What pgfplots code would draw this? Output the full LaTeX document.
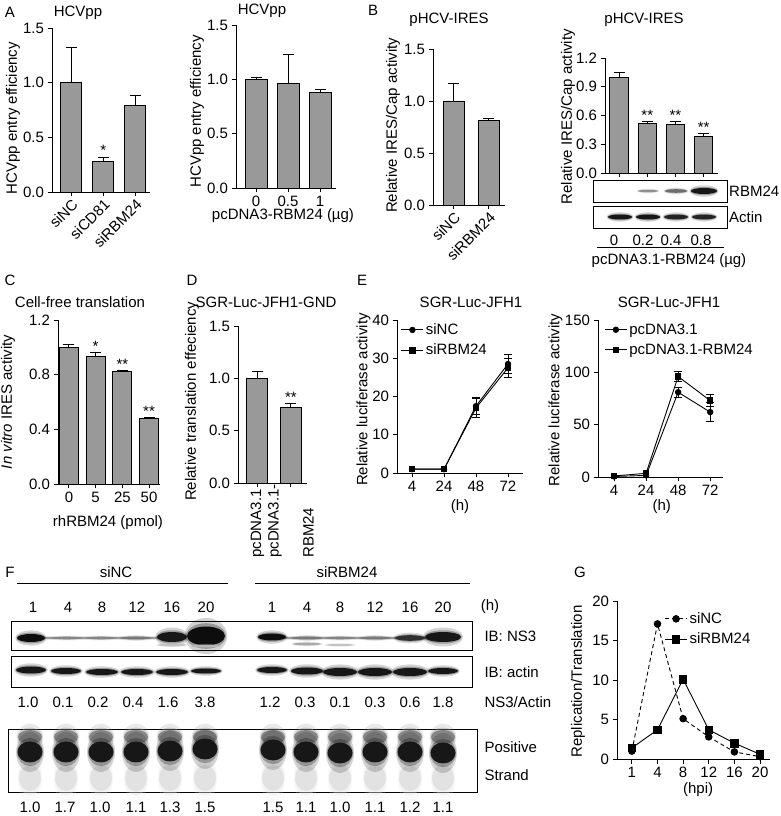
\documentclass[border=0pt]{standalone}
\usepackage{fontspec}
\setmainfont{Liberation Sans}
\usepackage{pgfplots}
\usepackage{pgfplotstable}
\pgfplotsset{compat=1.18}
\newcommand{\fs}{\fontsize{15}{17.5}\selectfont}
\definecolor{barg}{gray}{0.6}

\pgfdeclareplotmark{band}{%
  \pgfsetfillopacity{0.18}%
  \pgfpathellipse{\pgfpointorigin}{\pgfpoint{1.12pt*\bandw}{0pt}}{\pgfpoint{0pt}{1.9pt*\bandh}}\pgfusepathqfill
  \pgfsetfillopacity{0.3}%
  \pgfpathellipse{\pgfpointorigin}{\pgfpoint{1.05pt*\bandw}{0pt}}{\pgfpoint{0pt}{1.35pt*\bandh}}\pgfusepathqfill
  \pgfsetfillopacity{1}%
  \pgfpathellipse{\pgfpointorigin}{\pgfpoint{1pt*\bandw}{0pt}}{\pgfpoint{0pt}{1pt*\bandh}}\pgfusepathqfill
}

\pgfplotsset{
  panel/.style={scale only axis, anchor=south west, clip=false,
    axis x line*=bottom, axis y line*=left,
    axis line style={line width=0.9pt, black},
    tick style={line width=0.9pt, black},
    tick align=outside, major tick length=4.5pt,
    tick label style={font=\fs}, label style={font=\fs},
    /pgf/number format/assume math mode=true,
    legend style={draw=none, fill=none, font=\fs, cells={anchor=west}, row sep=4pt, inner sep=0pt},
    legend image code/.code={\draw[mark repeat=2,mark phase=2,##1] plot coordinates {(0pt,0pt) (11pt,0pt) (22pt,0pt)};},
  },
  onedec/.style={yticklabel style={/pgf/number format/.cd, fixed, fixed zerofill, precision=1}},
  rotlab/.style={xticklabel style={rotate=45, anchor=north east, inner sep=1pt}},
  ylabpos/.style 2 args={ylabel style={at={(axis description cs:#1,#2)}, anchor=center}},
  xlabpos/.style 2 args={xlabel style={at={(axis description cs:#1,#2)}, anchor=center}},
  mybar/.style={ybar, bar width=#1, fill=barg, draw=black, line width=0.9pt,
    error bars/y dir=plus, error bars/y explicit,
    error bars/error bar style={line width=0.9pt, black},
    error bars/error mark options={rotate=90, mark size=5.5pt, line width=0.9pt, black}},
  stars/.style={draw=none, mark=none, nodes near coords, point meta=explicit symbolic,
    nodes near coords style={font=\fs, anchor=south, inner sep=1pt}},
  lineplot/.style={black, line width=0.9pt, mark size=2.7pt,
    error bars/y dir=both, error bars/y explicit,
    error bars/error bar style={line width=0.9pt, black},
    error bars/error mark options={rotate=90, mark size=4pt, line width=0.9pt, black}},
  blot/.style={scale only axis, anchor=south west, xtick=\empty, ytick=\empty,
    axis line style={line width=0.9pt, black}, clip=true,
    colormap={blotmap}{gray(0cm)=(1); gray(1cm)=(0.05)},
    point meta min=0, point meta max=1},
  bands/.style={scatter, only marks, mark=band,
    point meta=\thisrow{g},
    visualization depends on={value \thisrow{w}\as\bandw},
    visualization depends on={value \thisrow{h}\as\bandh},
    scatter/use mapped color={draw=none, fill=mapped color}},
}

\begin{document}
\begin{tikzpicture}[font=\fs]
\path[use as bounding box] (0,0) rectangle (780pt,816pt);

% ---------- A left
\begin{axis}[panel, at={(52pt,624pt)}, width=97.6pt, height=164pt,
  xmin=-0.6, xmax=2.45, ymin=0, ymax=1.5, ytick={0,0.5,1,1.5}, onedec,
  xtick={0,1,2}, xticklabels={siNC,siCD81,siRBM24}, rotlab,
  ylabel={HCVpp entry efficiency}, ylabpos={-0.40}{0.45}]
\addplot[mybar=21pt] coordinates {(0,1.0) +- (0,0.32) (1,0.28) +- (0,0.04) (2,0.79) +- (0,0.09)};
\addplot[stars] coordinates {(1,0.32) [*]};
\end{axis}

% ---------- A right
\begin{axis}[panel, at={(236pt,628pt)}, width=100pt, height=163pt,
  xmin=-0.625, xmax=2.5, ymin=0, ymax=1.5, ytick={0,0.5,1,1.5}, onedec,
  xtick={0,1,2}, xticklabels={0,0.5,1},
  ylabel={HCVpp entry efficiency}, ylabpos={-0.39}{0.47},
  xlabel={pcDNA3-RBM24 (µg)}, xlabpos={0.47}{-0.168}]
\addplot[mybar=22pt] coordinates {(0,1.0) +- (0,0.02) (1,0.96) +- (0,0.27) (2,0.88) +- (0,0.03)};
\end{axis}

% ---------- B left
\begin{axis}[panel, at={(433pt,611pt)}, width=72pt, height=156pt,
  xmin=-0.586, xmax=1.47, ymin=0, ymax=1.5, ytick={0,0.5,1,1.5}, onedec,
  xtick={0,1}, xticklabels={siNC,siRBM24}, rotlab,
  ylabel={Relative IRES/Cap activity}, ylabpos={-0.556}{0.51}]
\addplot[mybar=21pt] coordinates {(0,1.0) +- (0,0.17) (1,0.81) +- (0,0.02)};
\end{axis}

% ---------- B right
\begin{axis}[panel, at={(605pt,643pt)}, width=113pt, height=115pt,
  xmin=-0.5, xmax=3.51, ymin=0, ymax=1.2, ytick={0,0.3,0.6,0.9,1.2}, onedec,
  xtick={0,1,2,3}, xticklabels={},
  ylabel={Relative IRES/Cap activity}, ylabpos={-0.327}{0.49}]
\addplot[mybar=18.5pt] coordinates {(0,1.0) +- (0,0.05) (1,0.52) +- (0,0.02) (2,0.51) +- (0,0.03) (3,0.38) +- (0,0.03)};
\addplot[stars] coordinates {(1,0.54) [**] (2,0.54) [**] (3,0.41) [**]};
\end{axis}
\begin{axis}[blot, at={(593pt,614pt)}, width=134pt, height=22pt, xmin=593, xmax=727, ymin=0, ymax=22]
\addplot[bands] table {
x y w h g
648 11 10 1.2 0.45
676 11 11 1.8 0.6
704 11 13 3 0.95
};
\end{axis}
\begin{axis}[blot, at={(593pt,588pt)}, width=134pt, height=22pt, xmin=593, xmax=727, ymin=0, ymax=22]
\addplot[bands] table {
x y w h g
620 11 12 2.5 0.95
648 11 12 2.5 0.95
676 11 12 2.4 0.9
704 11 12 2.4 0.9
};
\end{axis}
\node[anchor=west, inner sep=1pt] at (728pt,625pt) {RBM24};
\node[anchor=west, inner sep=1pt] at (728pt,599pt) {Actin};
\node at (614pt,576pt) {0};
\node at (643pt,576pt) {0.2};
\node at (671pt,576pt) {0.4};
\node at (701pt,576pt) {0.8};
\draw[line width=0.9pt] (597pt,569pt) -- (724pt,569pt);
\node at (669pt,555pt) {pcDNA3.1-RBM24 (µg)};

% ---------- C
\begin{axis}[panel, at={(58pt,332pt)}, width=102pt, height=164pt,
  xmin=-0.41, xmax=3.41, ymin=0, ymax=1.2, ytick={0,0.4,0.8,1.2}, onedec,
  xtick={0,1,2,3}, xticklabels={0,5,25,50},
  ylabel={\textit{In vitro} IRES activity}, ylabpos={-0.49}{0.5},
  xlabel={rhRBM24 (pmol)}, xlabpos={0.49}{-0.238}]
\addplot[mybar=19pt] coordinates {(0,1.0) +- (0,0.02) (1,0.93) +- (0,0.03) (2,0.82) +- (0,0.01) (3,0.48) +- (0,0.005)};
\addplot[stars] coordinates {(1,0.96) [*] (2,0.83) [**] (3,0.485) [**]};
\end{axis}

% ---------- D
\begin{axis}[panel, at={(238pt,333pt)}, width=69pt, height=157pt,
  xmin=-0.58, xmax=1.48, ymin=0, ymax=1.5, ytick={0,0.5,1,1.5}, onedec,
  xtick={0,1}, xticklabels={pcDNA3.1,{pcDNA3.1-\\RBM24}},
  xticklabel style={rotate=90, anchor=east, text width=68pt, align=left, inner sep=2pt},
  ylabel={Relative translation effeciency}, ylabpos={-0.667}{0.52}]
\addplot[mybar=21pt] coordinates {(0,1.0) +- (0,0.07) (1,0.72) +- (0,0.04)};
\addplot[stars] coordinates {(1,0.76) [**]};
\end{axis}

% ---------- E left
\begin{axis}[panel, at={(397pt,343pt)}, width=126pt, height=153pt,
  xmin=-0.47, xmax=3.47, ymin=0, ymax=40, ytick={0,10,20,30,40},
  xtick={0,1,2,3}, xticklabels={4,24,48,72},
  ylabel={Relative luciferase activity}, ylabpos={-0.265}{0.48},
  xlabel={(h)}, xlabpos={0.5}{-0.222},
  legend style={at={(rel axis cs:0.03,0.99)}, anchor=north west}]
\addplot[mark=*, lineplot] coordinates {(0,1) (1,1) (2,17.5) +- (0,2.3) (3,28.5) +- (0,2.5)};
\addplot[mark=square*, lineplot] coordinates {(0,1) (1,1) (2,17) +- (0,2.5) (3,27.5) +- (0,2.5)};
\legend{siNC,siRBM24}
\end{axis}

% ---------- E right
\begin{axis}[panel, at={(598pt,339pt)}, width=125pt, height=157pt,
  xmin=-0.5, xmax=3.4, ymin=0, ymax=150, ytick={0,50,100,150},
  xtick={0,1,2,3}, xticklabels={4,24,48,72},
  ylabel={Relative luciferase activity}, ylabpos={-0.34}{0.49},
  xlabel={(h)}, xlabpos={0.51}{-0.19},
  legend style={at={(rel axis cs:0.05,0.99)}, anchor=north west}]
\addplot[mark=*, lineplot] coordinates {(0,0.5) (1,1.5) (2,81) +- (0,5) (3,62) +- (0,9)};
\addplot[mark=square*, lineplot] coordinates {(0,1) (1,3.5) (2,96) +- (0,5) (3,73) +- (0,6)};
\legend{pcDNA3.1,pcDNA3.1-RBM24}
\end{axis}

% ---------- F blots
\begin{axis}[blot, at={(11pt,166pt)}, width=461pt, height=29pt, xmin=11, xmax=472, ymin=0, ymax=29]
\addplot[bands] table {
x y w h g
50 12 8 1.0 0.4
84 12 8 1.0 0.4
119 12 8 1.0 0.4
154 12 8 1.0 0.4
290 12 8 1.0 0.4
323 12 8 1.0 0.4
357 12 8 1.0 0.4
392 12 8 1.0 0.4
426 12 8 1.0 0.45
31 12 14 4 1.0
67 12 15 1.3 0.5
101 12 15 1.3 0.5
136 12 15 1.5 0.55
172 13 15 5 0.95
206 14 19 9.5 1.0
172 5 14 1.2 0.25
206 4 14 1.2 0.3
272 13 14 3.5 1.0
307 12 15 1.5 0.55
340 12 15 1.3 0.5
375 12 15 1.5 0.55
410 12 15 2.8 0.85
443 13 18 5 0.95
307 6 14 1.3 0.35
340 5 14 1 0.25
};
\end{axis}
\begin{axis}[blot, at={(11pt,129pt)}, width=461pt, height=31pt, xmin=11, xmax=472, ymin=0, ymax=31]
\addplot[bands] table {
x y w h g
31 17 15 3.5 0.95
66 16 15 3 0.95
102 15 16 3 0.95
137 15 16 3 0.95
172 15 16 3 0.95
206 16 15 2.5 0.95
272 17 15 3 0.95
307 16 16 3.5 0.95
340 15 17 4 0.95
375 15 17 4 0.95
410 15 17 4 0.95
443 16 15 3 0.95
};
\end{axis}
\begin{axis}[blot, at={(8pt,24pt)}, width=469pt, height=63pt, xmin=8, xmax=477, ymin=0, ymax=63]
\addplot[bands] table {
x y w h g
30 14 11 13 0.12
66 14 11 13 0.12
101 14 11 13 0.12
136 14 11 13 0.12
170 14 11 13 0.12
205 14 11 13 0.12
273 14 11 13 0.12
306 14 11 13 0.12
340 14 11 13 0.12
375 14 11 13 0.12
410 14 11 13 0.12
443 14 11 13 0.12
30 55 12 7 0.5
66 55 12 7 0.5
101 55 12 7 0.5
136 55 12 7 0.5
170 55 12 7 0.5
205 55 12 7 0.5
273 55 12 7 0.5
306 55 12 7 0.5
340 55 12 7 0.5
375 55 12 7 0.5
410 55 12 7 0.5
443 55 12 7 0.5
30 40 12.5 10.5 0.95
66 40 12.5 10.5 0.95
101 40 12.5 10.5 0.95
136 40 12.5 10.5 0.95
170 41 12.5 10.5 0.95
205 43 12.5 10.5 0.95
273 42 12.5 10.5 0.95
306 40 12.5 10.5 0.95
340 39 12.5 10.5 0.95
375 40 12.5 10.5 0.95
410 40 12.5 10.5 0.95
443 39 12.5 10.5 0.95
};
\end{axis}

\node at (116pt,244pt) {siNC};
\draw[line width=0.9pt] (17pt,233pt) -- (228pt,233pt);
\node at (347pt,244pt) {siRBM24};
\draw[line width=0.9pt] (255pt,233pt) -- (470pt,233pt);
\foreach \x/\t in {33/1,68/4,102/8,137/12,172/16,206/20,272/1,307/4,340/8,375/12,410/16,443/20}
  \node at (\x pt,209pt) {\t};
\node at (490pt,209pt) {(h)};
\node[anchor=west] at (481pt,180pt) {IB: NS3};
\node[anchor=west] at (481pt,144pt) {IB: actin};
\node[anchor=west] at (481pt,114pt) {NS3/Actin};
\node[anchor=west] at (481pt,69pt) {Positive};
\node[anchor=west] at (481pt,41pt) {Strand};
\foreach \x/\t in {28/1.0,63/0.1,98/0.2,133/0.4,168/1.6,205/3.8,270/1.2,305/0.3,340/0.1,375/0.3,410/0.6,443/1.8}
  \node at (\x pt,114pt) {\t};
\foreach \x/\t in {30/1.0,65/1.7,100/1.0,136/1.1,170/1.3,205/1.5,273/1.5,306/1.1,340/1.0,375/1.1,410/1.2,443/1.1}
  \node at (\x pt,9pt) {\t};

% ---------- G
\begin{axis}[panel, at={(617pt,57pt)}, width=153pt, height=158pt,
  xmin=-0.58, xmax=5.39, ymin=0, ymax=20, ytick={0,5,10,15,20},
  xtick={0,1,2,3,4,5}, xticklabels={1,4,8,12,16,20},
  ylabel={Replication/Translation}, ylabpos={-0.255}{0.49},
  xlabel={(hpi)}, xlabpos={0.53}{-0.196},
  legend style={at={(rel axis cs:0.31,0.94)}, anchor=north west}]
\addplot[black, line width=0.9pt, dash pattern=on 4pt off 3pt, mark=*, mark size=3.3pt, mark options={solid}] coordinates {(0,1.0) (1,17.1) (2,5.1) (3,2.8) (4,0.9) (5,0.3)};
\addplot[black, line width=0.9pt, mark=square*, mark size=3.8pt] coordinates {(0,1.4) (1,3.7) (2,10.1) (3,3.7) (4,2.0) (5,0.6)};
\legend{siNC,siRBM24}
\end{axis}

% ---------- panel letters and titles
\node at (10pt,804pt) {A};
\node at (373pt,806pt) {B};
\node at (10pt,536pt) {C};
\node at (192pt,536pt) {D};
\node at (362pt,536pt) {E};
\node at (10pt,244pt) {F};
\node at (580pt,244pt) {G};
\node at (78pt,803pt) {HCVpp};
\node at (262pt,805pt) {HCVpp};
\node at (449pt,796pt) {pHCV-IRES};
\node at (644pt,796pt) {pHCV-IRES};
\node at (80pt,514pt) {Cell-free translation};
\node at (266pt,514pt) {SGR-Luc-JFH1-GND};
\node at (471pt,514pt) {SGR-Luc-JFH1};
\node at (669pt,514pt) {SGR-Luc-JFH1};
\end{tikzpicture}
\end{document}
